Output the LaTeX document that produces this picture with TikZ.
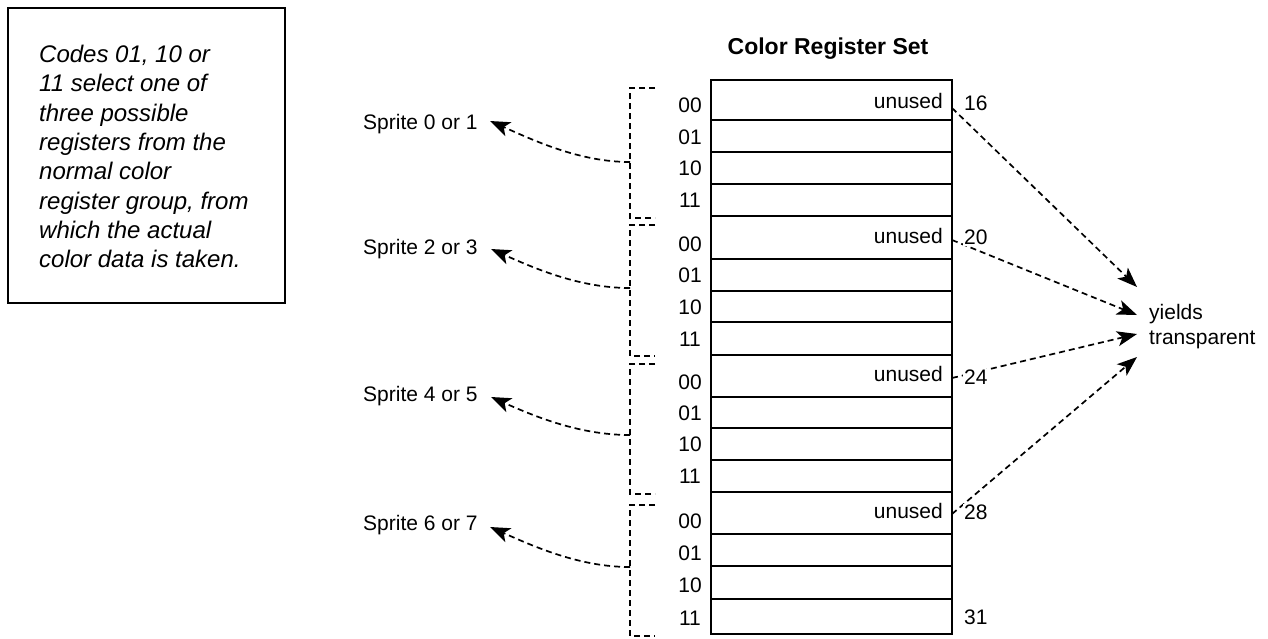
\documentclass[tikz,border=0pt]{standalone}
\usepackage{fontspec}
\setmainfont{Liberation Sans}
\usetikzlibrary{arrows.meta,calc}
\begin{document}
\begin{tikzpicture}[x=1pt,y=-1pt,
  lbl/.style={font=\fontsize{21}{25}\selectfont, inner sep=0pt},
  num/.style={lbl, fill=white, inner sep=1pt, anchor=base west},
  dsh/.style={line width=1.7pt, dash pattern=on 6pt off 4pt},
  arr/.style={dsh, -{Stealth[length=20pt,width=15pt,inset=5pt]}},
  tbl/.style={line width=1.5pt},
  brk/.style={line width=1.5pt, dash pattern=on 6pt off 4pt},
  note/.style={font=\itshape\fontsize{24}{29}\selectfont, inner sep=0pt, anchor=base west}]

\useasboundingbox (0,0) rectangle (1268,638);

% note box
\node[draw, line width=1.8pt, anchor=north west, minimum width=277pt, minimum height=295pt, inner sep=0pt] (notebox) at (7,7) {};
\node[note] (n1) at (39,62)  {Codes 01, 10 or};
\node[note] (n2) at (39,91)  {11 select one of};
\node[note] (n3) at (39,121) {three possible};
\node[note] (n4) at (39,150) {registers from the};
\node[note] (n5) at (39,179) {normal color};
\node[note] (n6) at (39,209) {register group, from};
\node[note] (n7) at (39,238) {which the actual};
\node[note] (n8) at (39,267) {color data is taken.};

% title
\node[font=\bfseries\fontsize{23}{28}\selectfont, inner sep=0pt, anchor=base] (title) at (828,54) {Color Register Set};

% table
\draw[tbl] (711,80) rectangle (952,634);
\foreach \yy in {120,152,184,216,259,291,322,355,397,428,460,492,534,566,599}
  \draw[tbl] (711,\yy) -- (952,\yy);

% row labels
\foreach \g/\a/\b/\c/\d in {1/105/137/168/200, 2/244/275/307/339, 3/382/413/444/476, 4/521/553/585/618}{
  \node[lbl] (r\g a) at (690,\a) {00};
  \node[lbl] (r\g b) at (690,\b) {01};
  \node[lbl] (r\g c) at (690,\c) {10};
  \node[lbl] (r\g d) at (690,\d) {11};
}

% unused labels
\node[lbl, anchor=base east] (u1) at (943,108) {unused};
\node[lbl, anchor=base east] (u2) at (943,243) {unused};
\node[lbl, anchor=base east] (u3) at (943,381) {unused};
\node[lbl, anchor=base east] (u4) at (943,518) {unused};

% brackets
\draw[brk] (655,88) -- (630,88) -- (630,218) -- (655,218);
\draw[brk] (655,225) -- (630,225) -- (630,356) -- (655,356);
\draw[brk] (655,364) -- (630,364) -- (630,494) -- (655,494);
\draw[brk] (655,505) -- (630,505) -- (630,636) -- (655,636);

% sprite labels
\node[lbl, anchor=base west] (s1) at (363,129.5) {Sprite 0 or 1};
\node[lbl, anchor=base west] (s2) at (363,254.5) {Sprite 2 or 3};
\node[lbl, anchor=base west] (s3) at (363,401.5) {Sprite 4 or 5};
\node[lbl, anchor=base west] (s4) at (363,530.5) {Sprite 6 or 7};

\coordinate (b1) at (630,162);
\coordinate (b2) at (630,288);
\coordinate (b3) at (630,435);
\coordinate (b4) at (630,567);
\coordinate (p1) at (490,121);
\coordinate (p2) at (491,249);
\coordinate (p3) at (491,397);
\coordinate (p4) at (490,527);
\foreach \i in {1,2,3,4}
  \draw[arr] (b\i) .. controls ($(b\i)+(-50,0)$) and ($(p\i)+(45,20)$) .. (p\i);

% yields transparent
\node[lbl, align=left, anchor=west] (yt) at (1149,327) {yields\\transparent};
\coordinate (t1) at (1137,287);
\coordinate (t2) at (1137,315);
\coordinate (t3) at (1137,334);
\coordinate (t4) at (1137,357);
\coordinate (e1) at (952,108);
\coordinate (e2) at (952,240);
\coordinate (e3) at (952,378);
\coordinate (e4) at (952,514);
\foreach \i in {1,2,3,4}
  \draw[arr] (e\i) -- (t\i);

% register numbers
\node[num] (k16) at (963,110.5) {16};
\node[num] (k20) at (963,244.5) {20};
\node[num] (k24) at (963,384.5) {24};
\node[num] (k28) at (963,519.5) {28};
\node[num] (k31) at (963,624.5) {31};
\end{tikzpicture}
\end{document}
